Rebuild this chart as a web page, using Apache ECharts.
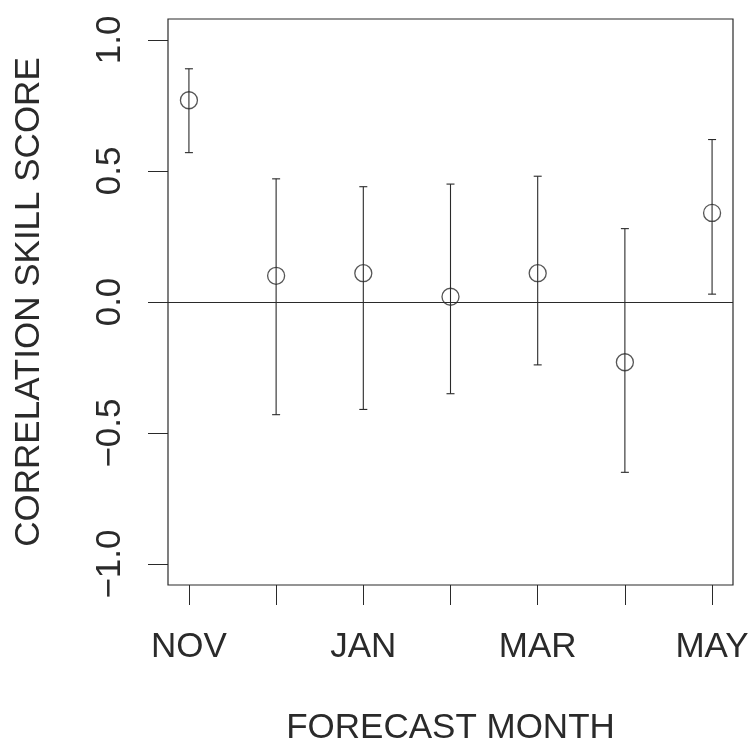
<!DOCTYPE html>
<html>
<head>
<meta charset="utf-8">
<script src="https://cdn.jsdelivr.net/npm/echarts@6/dist/echarts.min.js"></script>
<style>
  html, body { margin: 0; padding: 0; background: #ffffff; }
  #chart { width: 751px; height: 740px; }
</style>
</head>
<body>
<div id="chart"></div>
<script>
// Forecast months (x positions 1..7)
const months = ['NOV', 'DEC', 'JAN', 'FEB', 'MAR', 'APR', 'MAY'];
// Correlation skill score and its confidence bounds per month
const skill = [0.77, 0.10, 0.11, 0.02, 0.11, -0.23, 0.34];
const upper = [0.89, 0.47, 0.44, 0.45, 0.48, 0.28, 0.62];
const lower = [0.57, -0.43, -0.41, -0.35, -0.24, -0.65, 0.03];
// Axis ticks and labels
const xTicks = [1, 2, 3, 4, 5, 6, 7];
const xLabelTicks = [1, 3, 5, 7];
const yTicks = [-1.0, -0.5, 0.0, 0.5, 1.0];

const ink = '#2a2a2a';
const font = '"Liberation Sans", Arial, Helvetica, sans-serif';

const pointData = months.map((m, i) => [i + 1, skill[i]]);
const barData = months.map((m, i) => [i + 1, lower[i], upper[i]]);

const chart = echarts.init(document.getElementById('chart'), null, { renderer: 'canvas' });

chart.setOption({
  animation: false,
  backgroundColor: '#ffffff',
  grid: {
    left: 168, top: 19, right: 18, bottom: 155,
    show: true, borderColor: ink, borderWidth: 1.2,
    backgroundColor: 'transparent',
    outerBoundsMode: 'none'
  },
  xAxis: {
    type: 'value',
    min: 0.76, max: 7.24,
    name: 'FORECAST MONTH',
    nameLocation: 'middle',
    nameGap: 126,
    nameTextStyle: { fontFamily: font, fontSize: 35, color: ink },
    axisLine: { show: false, onZero: false },
    splitLine: { show: false },
    axisTick: { show: true, customValues: xTicks, length: 20, lineStyle: { color: ink, width: 1 } },
    axisLabel: {
      customValues: xLabelTicks,
      margin: 45,
      fontFamily: font, fontSize: 35, color: ink,
      formatter: v => months[Math.round(v) - 1]
    }
  },
  yAxis: {
    type: 'value',
    min: -1.08, max: 1.08,
    name: 'CORRELATION SKILL SCORE',
    nameLocation: 'middle',
    nameRotate: 90,
    nameGap: 121,
    nameTextStyle: { fontFamily: font, fontSize: 35, color: ink },
    axisLine: { show: false, onZero: false },
    splitLine: { show: false },
    axisTick: { show: true, customValues: yTicks, length: 20, lineStyle: { color: ink, width: 1 } },
    axisLabel: {
      customValues: yTicks,
      rotate: 90,
      margin: 40,
      fontFamily: font, fontSize: 35, color: ink,
      formatter: v => v.toFixed(1).replace('-', '\u2212')
    }
  },
  series: [
    {
      type: 'custom',
      data: barData,
      encode: { x: 0, y: [1, 2] },
      silent: true,
      renderItem: (params, api) => {
        const x = api.value(0);
        const lo = api.coord([x, api.value(1)]);
        const hi = api.coord([x, api.value(2)]);
        const cap = 4;
        const st = { stroke: ink, lineWidth: 1.1 };
        return {
          type: 'group',
          children: [
            { type: 'line', shape: { x1: lo[0], y1: lo[1], x2: hi[0], y2: hi[1] }, style: st },
            { type: 'line', shape: { x1: lo[0] - cap, y1: lo[1], x2: lo[0] + cap, y2: lo[1] }, style: st },
            { type: 'line', shape: { x1: hi[0] - cap, y1: hi[1], x2: hi[0] + cap, y2: hi[1] }, style: st }
          ]
        };
      },
      z: 2
    },
    {
      type: 'scatter',
      data: pointData,
      symbol: 'circle',
      symbolSize: 17,
      silent: true,
      itemStyle: { color: 'rgba(0,0,0,0)', borderColor: ink, borderWidth: 1.3 },
      markLine: {
        silent: true,
        symbol: ['none', 'none'],
        label: { show: false },
        lineStyle: { color: ink, width: 1.1, type: 'solid' },
        data: [{ yAxis: 0 }]
      },
      z: 3
    }
  ]
});
</script>
</body>
</html>
